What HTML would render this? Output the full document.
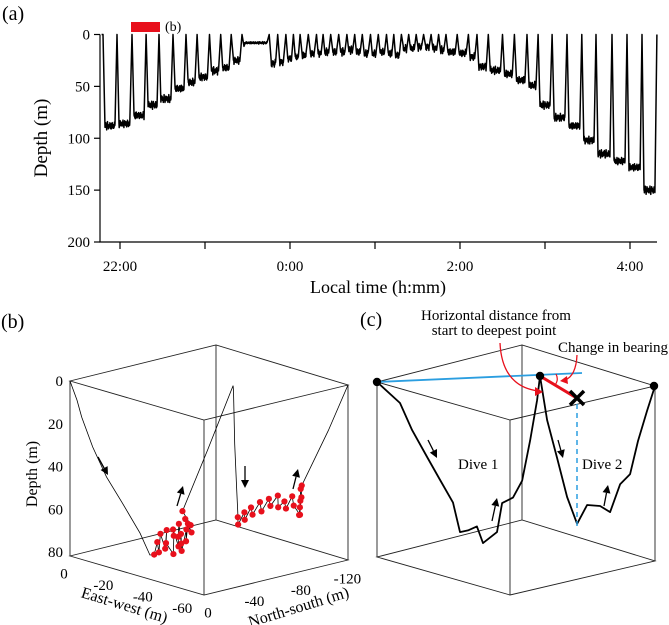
<!DOCTYPE html>
<html><head><meta charset="utf-8"><style>
html,body{margin:0;padding:0;background:#fff;}
svg{display:block;font-family:"Liberation Serif",serif;}
</style></head><body>
<svg width="669" height="625" viewBox="0 0 669 625" xmlns="http://www.w3.org/2000/svg">
<g id="pa"></g>
<g id="pb"></g>
<g id="pc"></g>
</svg>
<script>
// ---- Panel (a) data: minutes after 22:00 at each surfacing, and bottom depth (m) of the dive that follows
const surfaceTimes=[-12,-2.1,8.5,18.4,27.5,37.4,46.6,54.4,63.2,71.1,78.5,86.1,105.3,111.3,117.1,122.4,127.1,132.9,138.7,143.4,148.7,154.4,160.2,165.7,171,176.8,182.3,188.1,193.3,198.6,203.8,209.1,214.3,219.6,224.9,230.1,238,245.9,252,260,270,278.4,287.3,295.1,305,315.5,326,336,347.3,357.9,368.5,379];
const bottomDepths=[88,86,78,68,62,52,46,41,35,32,25,8,28,26.5,23,21.6,20,18.4,18.4,16.8,16.8,16.8,15,16.8,18.4,18.4,16.8,18.4,20,13.5,13.5,12,12,13.5,15,16.8,18,21.6,31,34.5,38,44,49,68,80,88,102,115,122,128,150];
const yTicksA=[0,50,100,150,200];
const xTickMinutes=[0,60,120,180,240,300,360];
const xTickLabels=["22:00","","0:00","","2:00","","4:00"];
// ---- Panel (b) data: [east-west m, north-south m, depth m]
const dive1Descent=[[0,0,0],[0,-6,9.7],[-2.4,-6,17],[-8,-6,29.5],[-15,-6,41.6],[-23,-6,51.6],[-32,-6,63.3],[-37,-6,72.2]];
const dive1Bottom=[[-38,-8,72],[-39,-9,66],[-41,-7,70],[-40,-10,62],[-43,-9,68],[-42,-12,60],[-44,-8,65],[-46,-11,70],[-45,-13,62],[-47,-9,58],[-48,-12,66],[-49,-10,61],[-47,-14,56],[-50,-11,64],[-51,-9,59],[-49,-13,68],[-52,-12,57],[-53,-10,62],[-51,-15,55],[-54,-13,58],[-52,-11,52],[-53,-14,55],[-50,-12,49]];
const dive1Ascent=[[-50,-12,49],[-44,-44,26],[-38,-76,2]];
const dive2Descent=[[-38,-76,2],[-37,-78,5],[-37,-79,30],[-38,-79,50],[-38,-80,62]];
const dive2Bottom=[[-38,-80,64],[-37,-82,68],[-39,-84,62],[-38,-86,66],[-40,-88,60],[-39,-91,64],[-41,-94,58],[-40,-97,63],[-42,-100,57],[-41,-103,61],[-43,-106,56],[-42,-108,62],[-44,-110,59],[-43,-113,63],[-45,-115,57],[-44,-118,62],[-46,-120,66],[-45,-122,60],[-44,-124,55],[-43,-125,64],[-42,-126,68],[-42,-128,60],[-41,-130,55]];
const dive2Ascent=[[-41,-130,55],[-58,-124,24],[-68,-124,0]];
const depthTicksB=[0,20,40,60,80];
const ewTicks=[0,-20,-40,-60];
const nsTicks=[0,-40,-80,-120];
// ---- Panel (c) schematic: horizontal progress (0-1) and relative depth (0-1)
const c1Progress=[0,.141,.215,.307,.387,.466,.509,.558,.613,.650,.736,.767,.834,.890,.939,.982,1];
const c1Depth=[0,.125,.282,.439,.573,.705,.875,.867,.846,.943,.883,.718,.689,.595,.367,.137,0];
const c2Progress=[0,.061,.148,.235,.322,.409,.522,.609,.696,.783,.852,.930,1];
const c2Depth=[0,.248,.46,.678,.826,.714,.713,.743,.579,.516,.323,.147,0];

const NS="http://www.w3.org/2000/svg";
function mk(parent,tag,attrs,text){const e=document.createElementNS(NS,tag);for(const k in attrs)e.setAttribute(k,attrs[k]);if(text!==undefined)e.textContent=text;parent.appendChild(e);return e;}

// ===== Panel A =====
const pa=document.getElementById('pa');
const ax=t=>120+t*85/60, ay=d=>34.5+d*1.0375;
let t0=surfaceTimes[0]-1;
let pts=[[ax(t0),ay(0)]];
let k=0;
for(let i=0;i<bottomDepths.length;i++){
  const s=surfaceTimes[i], e=surfaceTimes[i+1], D=bottomDepths[i];
  pts.push([ax(s),ay(0)]);
  const dd=Math.min(1.4,(e-s)/4);
  const prevD=i>0?bottomDepths[i-1]:D;
  for(let t=s+dd;t<=e-dd;t+=0.15){k++;
    const j=1.9*Math.sin(k*2.3)+1.4*Math.sin(k*5.7)+1.0*Math.sin(k*0.9);
    let base=D;
    if(D<10){const f=(t-s)/(e-s);base=f<0.1?prevD+(D-prevD)*f/0.1:D;}
    pts.push([ax(t),ay(Math.max(0,base+j*(base>10?1:0.3)))]);}
  pts.push([ax(e),ay(0)]);
}
const line=mk(pa,'path',{d:'M'+pts.map(p=>p[0].toFixed(1)+','+p[1].toFixed(1)).join('L'),fill:'none',stroke:'#000','stroke-width':1.5,'stroke-linejoin':'round'});


mk(pa,'path',{d:'M100,34.5V242H657',fill:'none',stroke:'#000','stroke-width':1.2});
yTicksA.forEach(v=>{mk(pa,'line',{x1:94,x2:100,y1:ay(v),y2:ay(v),stroke:'#000','stroke-width':1.2});
  const tl=mk(pa,'text',{x:90,y:ay(v)+5,'font-size':15,'text-anchor':'end'},String(v));
  
  });
xTickMinutes.forEach((m,i)=>{mk(pa,'line',{x1:ax(m),x2:ax(m),y1:242,y2:249,stroke:'#000','stroke-width':1.2});
  if(xTickLabels[i]){const tl=mk(pa,'text',{x:ax(m),y:271,'font-size':15,'text-anchor':'middle'},xTickLabels[i]);
  
  }});
mk(pa,'text',{x:47,y:138,'font-size':19,'text-anchor':'middle',transform:'rotate(-90 47 138)',},'Depth (m)');
mk(pa,'text',{x:378,y:293,'font-size':18,'text-anchor':'middle',},'Local time (h:mm)');
mk(pa,'text',{x:2,y:20,'font-size':20,},'(a)');
mk(pa,'rect',{x:131,y:22,width:29,height:10,fill:'#e8101c',});
mk(pa,'text',{x:165,y:31,'font-size':14,},'(b)');

function arrow(g,x1,y1,x2,y2,name,col,w){col=col||'#000';w=w||1.3;
  const a=Math.atan2(y2-y1,x2-x1),h=8,hw=4;
  const bx=x2-h*Math.cos(a),by=y2-h*Math.sin(a);
  const gg=mk(g,'g',{});
  mk(gg,'line',{x1:x1,y1:y1,x2:bx,y2:by,stroke:col,'stroke-width':w});
  mk(gg,'polygon',{points:`${x2},${y2} ${bx-hw*Math.sin(a)},${by+hw*Math.cos(a)} ${bx+hw*Math.sin(a)},${by-hw*Math.cos(a)}`,fill:col});}

function box(g,L,F,R,B,H){
  const d=`M${L[0]},${L[1]}L${F[0]},${F[1]}L${R[0]},${R[1]}L${B[0]},${B[1]}Z M${L[0]},${L[1]+H}L${F[0]},${F[1]+H}L${R[0]},${R[1]+H}L${B[0]},${B[1]+H}Z M${L[0]},${L[1]}V${L[1]+H}M${F[0]},${F[1]}V${F[1]+H}M${R[0]},${R[1]}V${R[1]+H}M${B[0]},${B[1]}V${B[1]+H}`;
  mk(g,'path',{d:d,fill:'none',stroke:'#222','stroke-width':0.9,});}

// ===== Panel B =====
const pb=document.getElementById('pb');
box(pb,[70,381],[204,420],[348,385],[216,345],175);
function P(p){const a=p[0]/-68,b=p[1]/-124;return [70+134*a+144*b,381+39*a-35*b+2.14*p[2]];}
const track=[].concat(dive1Descent,dive1Bottom,dive1Ascent,dive2Descent,dive2Bottom,dive2Ascent);
const tr=mk(pb,'path',{d:'M'+track.map(p=>P(p).map(v=>v.toFixed(1)).join(',')).join('L'),fill:'none',stroke:'#000','stroke-width':0.8});


dive1Bottom.concat(dive2Bottom).forEach(p=>{const q=P(p);
  const c=mk(pb,'circle',{cx:q[0],cy:q[1],r:3.1,fill:'#e8101c'});
  
  });
depthTicksB.forEach(v=>{const t=mk(pb,'text',{x:63,y:381+v*2.14+5,'font-size':15,'text-anchor':'end'},String(v));
  
  });
ewTicks.forEach(v=>{const q=P([v,0,82]);const t=mk(pb,'text',{x:q[0]-6,y:q[1]+22,'font-size':15,'text-anchor':'middle'},String(v));
  
  });
nsTicks.forEach(v=>{const q=P([-68,v,82]);const t=mk(pb,'text',{x:q[0]+4,y:q[1]+22,'font-size':15,'text-anchor':'middle'},String(v));
  
  });
mk(pb,'text',{x:37,y:474,'font-size':16,'text-anchor':'middle',transform:'rotate(-90 37 474)',},'Depth (m)');
mk(pb,'text',{x:123,y:610,'font-size':16,'text-anchor':'middle',transform:'rotate(17 123 610)',},'East-west (m)');
mk(pb,'text',{x:300,y:612,'font-size':16,'text-anchor':'middle',transform:'rotate(-17 300 612)',},'North-south (m)');
mk(pb,'text',{x:1,y:328,'font-size':20,},'(b)');
arrow(pb,98,457,108,475,'descent-arrow-1');
arrow(pb,177,506,183,486,'ascent-arrow-1');
arrow(pb,245,466,245,488,'descent-arrow-2');
arrow(pb,293,489,298,469,'ascent-arrow-2');

// ===== Panel C =====
const pc=document.getElementById('pc');
box(pc,[377,382],[510,420],[655,386],[522,345],175);
function C(u,v,w){return [377+133*u+145*v,382+38*u-34*v+175*w];}
const c1=c1Progress.map((s,i)=>C(.466*s,.697*s,c1Depth[i]));
const c2=c2Progress.map((s,i)=>C(.466+.534*s,.697+.303*s,c2Depth[i]));
const cp=mk(pc,'path',{d:'M'+c1.concat(c2).map(p=>p[0].toFixed(1)+','+p[1].toFixed(1)).join('L'),fill:'none',stroke:'#000','stroke-width':1.8,'stroke-linejoin':'round'});


mk(pc,'line',{x1:377,y1:382,x2:582,y2:373,stroke:'#2b9ee0','stroke-width':1.8,});
mk(pc,'line',{x1:577,y1:404,x2:577,y2:529,stroke:'#2b9ee0','stroke-width':1.5,'stroke-dasharray':'5,4',});
mk(pc,'line',{x1:540,y1:376,x2:575,y2:397,stroke:'#e8101c','stroke-width':3,});
mk(pc,'path',{d:'M500,343 Q502,386 538,391',fill:'none',stroke:'#e8101c','stroke-width':1.3,});
mk(pc,'polygon',{points:'543,392 535,387 535,396',fill:'#e8101c'});
mk(pc,'path',{d:'M577,355 Q576,376 565,380',fill:'none',stroke:'#e8101c','stroke-width':1.3,});
mk(pc,'polygon',{points:'560,381 567,376 568,384',fill:'#e8101c'});
mk(pc,'path',{d:'M556,374 Q559,380 555,385',fill:'none',stroke:'#e8101c','stroke-width':1.2,});
const xg=mk(pc,'g',{});
mk(xg,'line',{x1:570,y1:391,x2:584,y2:405,stroke:'#000','stroke-width':3.5});
mk(xg,'line',{x1:584,y1:391,x2:570,y2:405,stroke:'#000','stroke-width':3.5});
[[377,382],[540,376],[654,386]].forEach(p=>{const c=mk(pc,'circle',{cx:p[0],cy:p[1],r:4.2,fill:'#000'});
  
  });
mk(pc,'text',{x:496,y:320,'font-size':15,'text-anchor':'middle',},'Horizontal distance from');
mk(pc,'text',{x:494,y:335,'font-size':15,'text-anchor':'middle',},'start to deepest point');
mk(pc,'text',{x:668,y:352,'font-size':15,'text-anchor':'end',},'Change in bearing');
mk(pc,'text',{x:458,y:469,'font-size':15,},'Dive 1');
mk(pc,'text',{x:582,y:469,'font-size':15,},'Dive 2');
mk(pc,'text',{x:360,y:326,'font-size':20,},'(c)');
arrow(pc,428,440,437,458,'c-descent-arrow-1');
arrow(pc,492,521,497,498,'c-ascent-arrow-1');
arrow(pc,558,440,563,458,'c-descent-arrow-2');
arrow(pc,604,506,608,485,'c-ascent-arrow-2');
</script>
</body></html>
